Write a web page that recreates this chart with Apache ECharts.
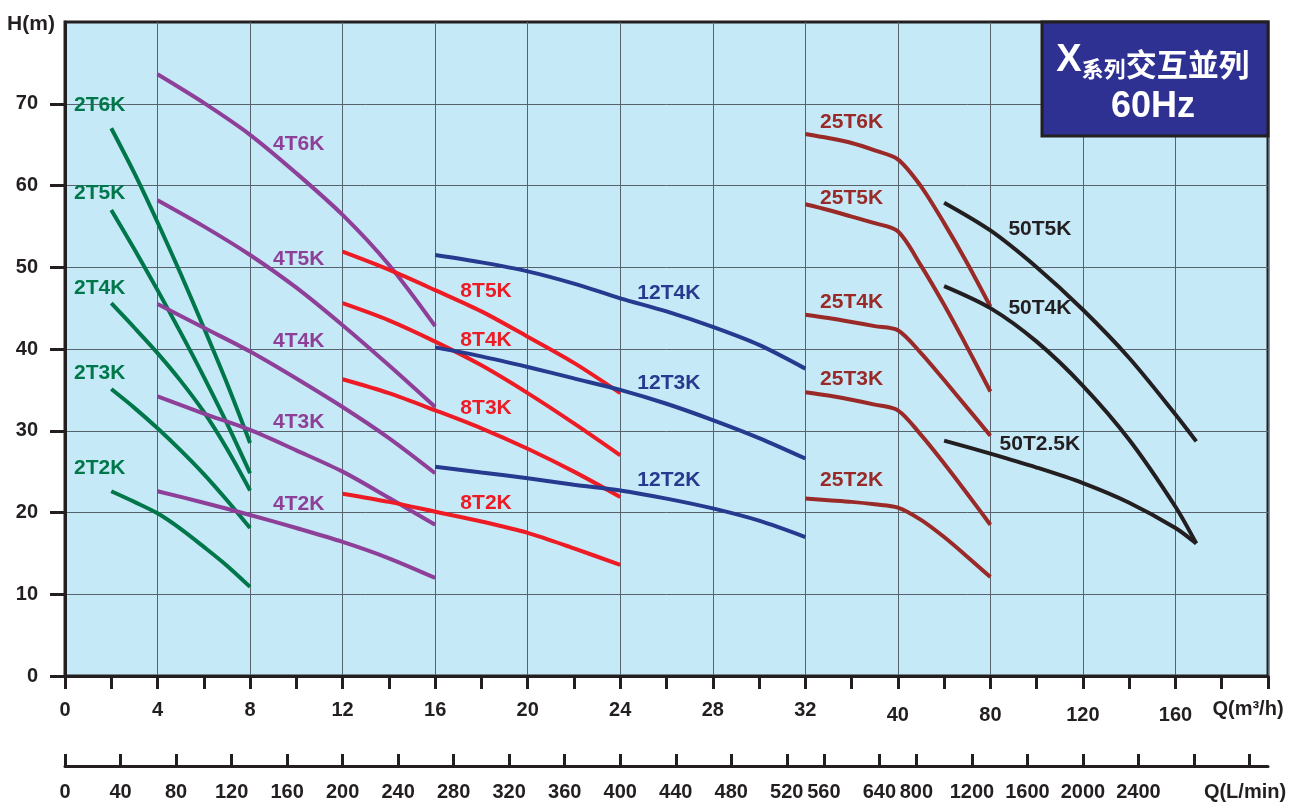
<!DOCTYPE html>
<html>
<head>
<meta charset="utf-8">
<script src="https://cdn.jsdelivr.net/npm/echarts@6/dist/echarts.min.js"></script>
<style>
html,body{margin:0;padding:0;background:#fff;}
#chart{width:1301px;height:803px;}
</style>
</head>
<body>
<div id="chart"></div>
<script>
// ---------------- DATA (Q in m³/h, H in m) ----------------
const q2T = [2, 3, 4, 5, 6, 7, 8];
const h2T6K = [67.0, 61.5, 55.5, 49.2, 42.6, 35.8, 28.5];
const h2T5K = [57.0, 52.2, 47.2, 42.0, 36.6, 30.9, 24.8];
const h2T4K = [45.6, 42.6, 39.5, 36.1, 32.3, 27.8, 22.7];
const h2T3K = [35.1, 32.8, 30.3, 27.6, 24.7, 21.5, 18.1];
const h2T2K = [22.6, 21.3, 19.9, 18.0, 15.8, 13.5, 10.9];

const q4T = [4, 6, 8, 10, 12, 14, 16];
const h4T6K = [73.6, 70.1, 66.2, 61.5, 56.4, 50.3, 42.8];
const h4T5K = [58.2, 55.0, 51.5, 47.5, 42.9, 38.0, 32.9];
const h4T4K = [45.5, 42.6, 39.7, 36.4, 32.9, 29.1, 24.8];
const h4T3K = [34.2, 32.1, 30.1, 27.6, 25.0, 21.8, 18.5];
const h4T2K = [22.6, 21.2, 19.7, 18.1, 16.4, 14.4, 12.0];

const q8T = [12, 14, 16, 18, 20, 22, 24];
const h8T5K = [51.9, 49.7, 47.2, 44.6, 41.5, 38.3, 34.6];
const h8T4K = [45.6, 43.5, 40.9, 38.0, 34.6, 30.9, 27.0];
const h8T3K = [36.3, 34.6, 32.5, 30.3, 27.8, 25.0, 21.9];
const h8T2K = [22.3, 21.3, 20.1, 18.9, 17.5, 15.6, 13.6];

const q12T = [16, 18, 20, 22, 24, 26, 28, 30, 32];
const h12T4K = [51.5, 50.6, 49.5, 48.0, 46.2, 44.6, 42.7, 40.5, 37.6];
const h12T3K = [40.2, 39.1, 37.8, 36.4, 35.0, 33.3, 31.3, 29.1, 26.6];
const h12T2K = [25.6, 24.9, 24.2, 23.4, 22.7, 21.7, 20.5, 19.0, 17.0];

const q25T = [32, 34, 36, 38, 40, 50, 60, 70, 80];
const h25T6K = [66.3, 65.8, 65.2, 64.3, 63.2, 59.9, 55.4, 50.5, 45.2];
const h25T5K = [57.7, 57.0, 56.2, 55.4, 54.4, 50.2, 45.4, 40.2, 34.8];
const h25T4K = [44.2, 43.8, 43.3, 42.8, 42.3, 39.5, 36.2, 32.8, 29.4];
const h25T3K = [34.7, 34.3, 33.8, 33.2, 32.5, 29.5, 26.0, 22.3, 18.5];
const h25T2K = [21.7, 21.5, 21.3, 21.0, 20.6, 19.1, 17.0, 14.6, 12.1];

const q50T = [60, 80, 100, 120, 140, 160, 169];
const h50T5K = [57.9, 54.5, 50.0, 44.8, 38.9, 32.0, 28.7];
const h50T4K = [47.7, 45.0, 40.9, 35.5, 28.9, 20.7, 16.2];
const h50T2_5K = [28.8, 27.2, 25.5, 23.6, 21.2, 18.1, 16.2];

// curve name labels: [name, Q, H] anchors
const labels2T = [['2T6K', 1.5, 69.8], ['2T5K', 1.5, 59.1], ['2T4K', 1.5, 47.4], ['2T3K', 1.5, 37.1], ['2T2K', 1.5, 25.4]];
const labels4T = [['4T6K', 10.1, 65.0], ['4T5K', 10.1, 51.0], ['4T4K', 10.1, 41.0], ['4T3K', 10.1, 31.0], ['4T2K', 10.1, 21.0]];
const labels8T = [['8T5K', 18.2, 47.1], ['8T4K', 18.2, 41.1], ['8T3K', 18.2, 32.8], ['8T2K', 18.2, 21.1]];
const labels12T = [['12T4K', 26.1, 46.8], ['12T3K', 26.1, 35.8], ['12T2K', 26.1, 23.9]];
const labels25T = [['25T6K', 36, 67.7], ['25T5K', 36, 58.5], ['25T4K', 36, 45.7], ['25T3K', 36, 36.3], ['25T2K', 36, 24.0]];
const labels50T = [['50T5K', 101.4, 54.6], ['50T4K', 101.4, 45.0], ['50T2.5K', 101.4, 28.4]];

// axis tick labels
const qTickLabelsPos = [0, 2, 4, 6, 8, 10, 12, 14, 16, 18, 20, 22, 24];
const lminTicks = [0, 40, 80, 120, 160, 200, 240, 280, 320, 360, 400, 440, 480, 520, 560, 640, 800, 1200, 1600, 2000, 2400, 2800, 3200];
const lminLabels = [0, 40, 80, 120, 160, 200, 240, 280, 320, 360, 400, 440, 480, 520, 560, 640, 800, 1200, 1600, 2000, 2400];
const yTicks = [0, 10, 20, 30, 40, 50, 60, 70];

// ---------------- piecewise Q scale (m³/h -> axis position) ----------------
function qToPos(q) {
  if (q <= 32) return q / 2;
  if (q <= 40) return 16 + (q - 32) / 4;
  return 18 + (q - 40) / 20;
}
function posToQ(p) {
  if (p <= 16) return p * 2;
  if (p <= 18) return 32 + (p - 16) * 4;
  return 40 + (p - 18) * 20;
}
const lminToPos = v => qToPos(v * 0.06);

const FONT = '"Liberation Sans", Arial, Helvetica, sans-serif';
const CJK = '"Noto Sans CJK TC", "Noto Sans CJK SC", sans-serif';
const INK = '#231f20';

const GREEN = '#00774a', PURPLE = '#8e3f98', RED = '#ed1c24', BLUE = '#263a8f', DRED = '#992a27', BLACK = '#231f20';

function curve(name, qs, hs, color) {
  return {
    name, type: 'line', xAxisIndex: 0, yAxisIndex: 0,
    data: qs.map((q, i) => [qToPos(q), hs[i]]),
    showSymbol: false, symbol: 'none', smooth: 0.3,
    lineStyle: { color, width: 4, cap: 'butt' },
    silent: true, z: 3
  };
}
function labelSeries(list, color) {
  return {
    type: 'scatter', xAxisIndex: 0, yAxisIndex: 0,
    data: list.map(l => ({ name: l[0], value: [qToPos(l[1]), l[2]] })),
    symbolSize: 0.1, silent: true, z: 5,
    itemStyle: { opacity: 1, color: 'rgba(0,0,0,0)' },
    label: {
      show: true, position: 'inside', formatter: p => p.name,
      color, fontFamily: FONT, fontWeight: 'bold', fontSize: 21,
      textBorderWidth: 0, opacity: 1
    }
  };
}

const chart = echarts.init(document.getElementById('chart'), null, { renderer: 'canvas' });

const option = {
  animation: false,
  backgroundColor: '#ffffff',
  grid: {
    left: 65, right: 33, top: 22, bottom: 127,
    show: true, backgroundColor: '#c6e9f8', borderColor: INK, borderWidth: 3
  },
  xAxis: [
    {
      type: 'value', min: 0, max: 26, interval: 2, position: 'bottom',
      axisLine: { show: true, onZero: false, lineStyle: { color: INK, width: 3 } },
      axisTick: { show: true, inside: false, length: 13, lineStyle: { color: INK, width: 3 } },
      minorTick: { show: true, splitNumber: 2, length: 13, lineStyle: { color: INK, width: 3 } },
      splitLine: { show: true, lineStyle: { color: '#56626c', width: 1 } },
      axisLabel: {
        margin: 24, fontSize: 20, fontWeight: 'bold', color: INK, fontFamily: FONT, lineHeight: 20,
        customValues: qTickLabelsPos,
        formatter: v => {
          const q = Math.round(posToQ(v));
          return q > 32 ? '{low|' + q + '}' : String(q);
        },
        rich: { low: { fontSize: 20, fontWeight: 'bold', color: INK, fontFamily: FONT, lineHeight: 30 } }
      }
    },
    {
      type: 'value', min: 0, max: 26, position: 'bottom', offset: 90,
      axisLine: { show: true, onZero: false, lineStyle: { color: INK, width: 3 } },
      axisTick: { show: true, inside: true, length: 12, customValues: lminTicks.map(lminToPos), lineStyle: { color: INK, width: 3 } },
      splitLine: { show: false },
      axisLabel: {
        margin: 16, fontSize: 20, fontWeight: 'bold', color: INK, fontFamily: FONT,
        customValues: lminLabels.map(lminToPos),
        formatter: v => {
          let best = 0, bd = 1e9;
          lminLabels.forEach(l => { const d = Math.abs(lminToPos(l) - v); if (d < bd) { bd = d; best = l; } });
          return String(best);
        }
      }
    }
  ],
  yAxis: {
    type: 'value', min: 0, max: 80, interval: 10,
    axisLine: { show: true, onZero: false, lineStyle: { color: INK, width: 3 } },
    axisTick: { show: true, length: 15, customValues: yTicks, lineStyle: { color: INK, width: 3 } },
    splitLine: { show: true, lineStyle: { color: '#56626c', width: 1 } },
    axisLabel: {
      margin: 27, fontSize: 20, fontWeight: 'bold', color: INK, fontFamily: FONT,
      customValues: yTicks
    }
  },
  series: [
    curve('2T6K', q2T, h2T6K, GREEN), curve('2T5K', q2T, h2T5K, GREEN), curve('2T4K', q2T, h2T4K, GREEN),
    curve('2T3K', q2T, h2T3K, GREEN), curve('2T2K', q2T, h2T2K, GREEN),
    curve('4T6K', q4T, h4T6K, PURPLE), curve('4T5K', q4T, h4T5K, PURPLE), curve('4T4K', q4T, h4T4K, PURPLE),
    curve('4T3K', q4T, h4T3K, PURPLE), curve('4T2K', q4T, h4T2K, PURPLE),
    curve('8T5K', q8T, h8T5K, RED), curve('8T4K', q8T, h8T4K, RED), curve('8T3K', q8T, h8T3K, RED), curve('8T2K', q8T, h8T2K, RED),
    curve('12T4K', q12T, h12T4K, BLUE), curve('12T3K', q12T, h12T3K, BLUE), curve('12T2K', q12T, h12T2K, BLUE),
    curve('25T6K', q25T, h25T6K, DRED), curve('25T5K', q25T, h25T5K, DRED), curve('25T4K', q25T, h25T4K, DRED),
    curve('25T3K', q25T, h25T3K, DRED), curve('25T2K', q25T, h25T2K, DRED),
    curve('50T5K', q50T, h50T5K, BLACK), curve('50T4K', q50T, h50T4K, BLACK), curve('50T2.5K', q50T, h50T2_5K, BLACK),
    labelSeries(labels2T, GREEN), labelSeries(labels4T, PURPLE), labelSeries(labels8T, RED),
    labelSeries(labels12T, BLUE), labelSeries(labels25T, DRED), labelSeries(labels50T, BLACK)
  ],
  graphic: [
    { type: 'text', x: 31, y: 24, z: 50, style: { text: 'H(m)', fill: INK, font: 'bold 21px ' + FONT, align: 'center', verticalAlign: 'middle' } },
    { type: 'text', x: 1248, y: 709, z: 50, style: { text: 'Q(m³/h)', fill: INK, font: 'bold 20px ' + FONT, align: 'center', verticalAlign: 'middle' } },
    { type: 'text', x: 1245, y: 792, z: 50, style: { text: 'Q(L/min)', fill: INK, font: 'bold 20px ' + FONT, align: 'center', verticalAlign: 'middle' } },
    { type: 'rect', z: 60, shape: { x: 1042, y: 22, width: 226, height: 114 }, style: { fill: '#2e3192', stroke: INK, lineWidth: 3 } },
    {
      type: 'text', x: 1153, y: 62, z: 61,
      style: {
        text: '{a|X}{b|系列}{c|交互並列}', align: 'center', verticalAlign: 'middle', fill: '#ffffff',
        rich: {
          a: { fontSize: 38, fontWeight: 'bold', fontFamily: FONT, fill: '#ffffff', verticalAlign: 'bottom', lineHeight: 36 },
          b: { fontSize: 22, fontWeight: 'bold', fontFamily: CJK, fill: '#ffffff', verticalAlign: 'bottom', lineHeight: 36 },
          c: { fontSize: 31, fontWeight: 'bold', fontFamily: CJK, fill: '#ffffff', verticalAlign: 'bottom', lineHeight: 36 }
        }
      }
    },
    { type: 'text', x: 1153, y: 107, z: 61, style: { text: '60Hz', fill: '#ffffff', font: 'bold 36px ' + FONT, align: 'center', verticalAlign: 'middle' } }
  ]
};
chart.setOption(option);
</script>
</body>
</html>
